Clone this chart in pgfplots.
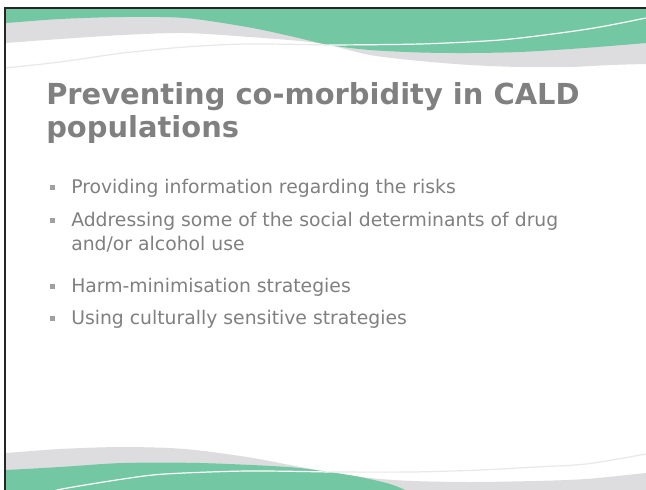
\documentclass[border=0pt]{standalone}
\usepackage{pgfplots}
\pgfplotsset{compat=1.18}
\usepackage{fontspec}
\setmainfont{DejaVu Sans}
\definecolor{wave}{RGB}{115,200,163}
\definecolor{band}{RGB}{221,221,223}
\definecolor{faint}{RGB}{232,232,234}
\definecolor{txt}{RGB}{128,128,128}
\definecolor{bul}{RGB}{160,160,160}
\begin{document}
\begin{tikzpicture}
\begin{axis}[scale only axis, width=484.5pt, height=366.75pt,
  xmin=0, xmax=646, ymin=0, ymax=489, y dir=reverse, hide axis, clip=true]
% background
\addplot[fill=white, draw=none] coordinates {(-10,-10)(660,-10)(660,500)(-10,500)};
% ---------- top ----------
% gray ribbon
\addplot[fill=band, draw=none, smooth, tension=0.5] coordinates {
 (-40,-40)(-40,45)(-20,44.5)(5,43)(60,39)(123,35)(185,33)(250,37)(300,41)(329,45)
 (370,55)(420,61)(470,65)(520,67)(570,67)(610,65)(646,64)(680,63)(680,-40)};
% green
\addplot[fill=wave, draw=none, smooth, tension=0.5] coordinates {
 (-40,-40)(-40,24)(-20,23.5)(5,23)(60,19)(123,17)(185,18)(247,27)(290,36)(329,45)
 (370,50)(420,52.5)(470,53)(520,52)(570,49)(610,46)(646,43)(680,40)(680,-40)};
% thin lines
\addplot[draw=faint, line width=0.9pt, smooth, tension=0.5] coordinates {
 (-10,69)(5,68)(60,62)(123,53)(185,47)(247,44)(329,45)};
\addplot[draw=white, line width=0.9pt, smooth, tension=0.5] coordinates {
 (329,45)(420,44)(500,40)(560,33)(600,27)(646,18)(660,15)};
% ---------- bottom ----------
\addplot[fill=band, draw=none, smooth, tension=0.5] coordinates {
 (-40,540)(-40,454)(-20,453.5)(5,453)(60,449)(123,447)(185,449)(247,457)(290,465)(329,472)
 (370,478)(412,481)(470,482)(535,481)(586,479)(646,473)(680,470)(680,540)};
\addplot[fill=wave, draw=none, smooth, tension=0.5] coordinates {
 (-40,540)(-40,471)(-20,470.5)(5,470)(60,467)(123,463)(200,463)(288,467)(329,472)
 (360,477)(390,484)(410,492)(430,500)(430,540)};
\addplot[draw=white, line width=0.9pt, smooth, tension=0.5] coordinates {
 (40,495)(62,489)(123,479)(165,474)(247,471)(329,472)};
\addplot[draw=faint, line width=0.9pt, smooth, tension=0.5] coordinates {
 (329,472)(412,472)(480,470)(535,467)(586,464)(646,454)(660,451)};
% margins and frame
\addplot[fill=white, draw=none] coordinates {(-10,-10)(5,-10)(5,500)(-10,500)};
\addplot[fill=white, draw=none] coordinates {(-10,-10)(660,-10)(660,8)(-10,8)};
\addplot[draw=black!85, line width=1.1pt] coordinates {(5,492)(5,8)(650,8)};
% bullets
\addplot[only marks, mark=square*, mark size=1.6pt, color=bul] coordinates {
 (52,187)(52,220)(52,286)(52,318)};
% text
\tikzset{every node/.append style={inner sep=0pt, text=txt}}
\node[anchor=base west, font=\fontsize{21.7}{26}\selectfont\bfseries] at (axis cs:46,104) {Preventing co-morbidity in CALD};
\node[anchor=base west, font=\fontsize{21.7}{26}\selectfont\bfseries] at (axis cs:46,137) {populations};
\node[anchor=base west, font=\fontsize{14.1}{17}\selectfont] at (axis cs:71,193) {Providing information regarding the risks};
\node[anchor=base west, font=\fontsize{14.1}{17}\selectfont] at (axis cs:71,226) {Addressing some of the social determinants of drug};
\node[anchor=base west, font=\fontsize{14.1}{17}\selectfont] at (axis cs:71,250) {and/or alcohol use};
\node[anchor=base west, font=\fontsize{14.1}{17}\selectfont] at (axis cs:71,292) {Harm-minimisation strategies};
\node[anchor=base west, font=\fontsize{14.1}{17}\selectfont] at (axis cs:71,324) {Using culturally sensitive strategies};
\end{axis}
\end{tikzpicture}
\end{document}
